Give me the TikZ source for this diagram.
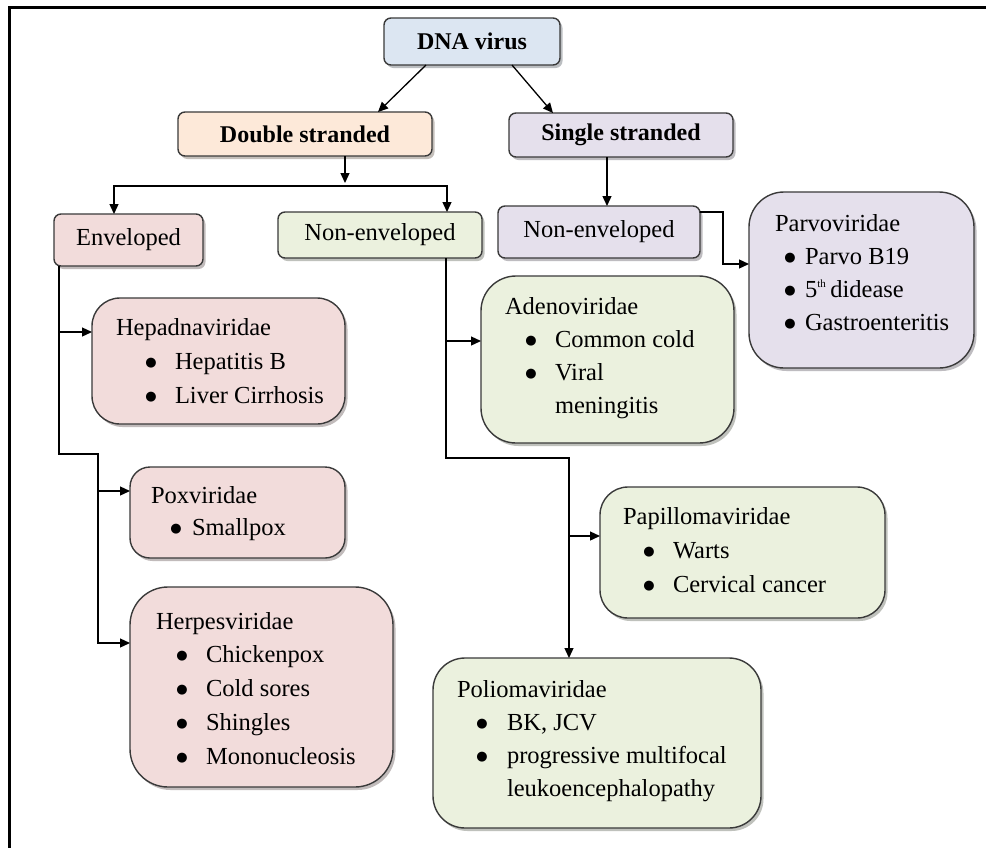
\documentclass[tikz,border=0pt]{standalone}
\usepackage{fontspec}
\setmainfont{Liberation Serif}
\newfontfamily\dejavu{DejaVu Sans}
\usetikzlibrary{arrows.meta,shadows,calc}
\definecolor{cblue}{HTML}{DCE6F2}
\definecolor{corange}{HTML}{FDE9D9}
\definecolor{cpurple}{HTML}{E5E0EC}
\definecolor{cpink}{HTML}{F2DCDB}
\definecolor{cgreen}{HTML}{EBF1DE}
\definecolor{cborder}{HTML}{3A3A3A}
\newcommand{\bitem}[3]{\hspace*{#1pt}\makebox[0pt][c]{\raisebox{2.8pt}{\dejavu\fontsize{13}{13}\selectfont ●}}\hspace*{#2pt}#3}
\tikzset{
  vbox/.style={draw=cborder, line width=1.4pt, rectangle, inner sep=0pt, outer sep=0pt,
    font=\fontsize{24.5}{30}\selectfont},
  boldtxt/.style={font=\bfseries\fontsize{24}{30}\selectfont},
  fillc/.style={fill=#1, drop shadow={shadow xshift=2.5pt, shadow yshift=-3pt, fill=#1!55!black, opacity=0.5}},
  sz/.style n args={3}{minimum width=#1pt, minimum height=#2pt, rounded corners=#3pt},
  listtxt/.style={inner sep=0pt, outer sep=0pt, anchor=base west, font=\fontsize{24.5}{#1}\selectfont},
  arr/.style={-{Triangle[length=10pt,width=9pt]}, line width=1.3pt, black},
  ln/.style={line width=1.3pt, black}
}
\begin{document}
\begin{tikzpicture}[x=1pt,y=-1pt]
\useasboundingbox (0,0) rectangle (986,847);
\fill[white] (0,0) rectangle (986,847);
\draw[line width=3pt] (9,850) -- (9,7) -- (990,7);

% top level boxes
\node[vbox, fillc=cblue, sz={176}{47}{7}, boldtxt] (dna) at (472,41.5) {DNA virus};
\node[vbox, fillc=corange, sz={254}{44}{7}, boldtxt] (ds) at (305,134) {Double stranded};
\node[vbox, fillc=cpurple, sz={224}{44}{7}, boldtxt] (ss) at (621,135) {Single stranded};
\node[vbox, fillc=cpink, sz={149}{52}{7}] (env) at (128.5,240) {Enveloped};
\node[vbox, fillc=cgreen, sz={204}{46}{7}] (nenvd) at (380,235) {Non-enveloped};
\node[vbox, fillc=cpurple, sz={202}{52}{7}] (nenvs) at (599,232) {Non-enveloped};

% family boxes
\node[vbox, fillc=cpurple, sz={225}{176}{35}] (parvo) at (861.5,280) {};
\node[vbox, fillc=cpink, sz={253}{126}{28}] (hep) at (218.5,361) {};
\node[vbox, fillc=cgreen, sz={253}{167}{35}] (adeno) at (607.5,359.5) {};
\node[vbox, fillc=cpink, sz={215}{91}{20}] (pox) at (237.5,512.5) {};
\node[vbox, fillc=cgreen, sz={285}{131}{28}] (papillo) at (742.5,552.5) {};
\node[vbox, fillc=cpink, sz={263}{200}{38}] (herp) at (261.5,687) {};
\node[vbox, fillc=cgreen, sz={328}{170}{32}] (polio) at (597,743) {};

% texts
\node[listtxt=34] (hepT) at (116,335) {\begin{tabular}[t]{@{}l@{}}Hepadnaviridae\\
  \bitem{35}{24}{Hepatitis B}\\ \bitem{35}{24}{Liver Cirrhosis}\end{tabular}};
\node[listtxt=32] (poxT) at (151,503) {\begin{tabular}[t]{@{}l@{}}Poxviridae\\
  \bitem{25}{16}{Smallpox}\end{tabular}};
\node[listtxt=33.75] (herpT) at (156,629) {\begin{tabular}[t]{@{}l@{}}Herpesviridae\\
  \bitem{26}{24}{Chickenpox}\\ \bitem{26}{24}{Cold sores}\\
  \bitem{26}{24}{Shingles}\\ \bitem{26}{24}{Mononucleosis}\end{tabular}};
\node[listtxt=33.3] (adenoT) at (505,314) {\begin{tabular}[t]{@{}l@{}}Adenoviridae\\
  \bitem{26}{24}{Common cold}\\ \bitem{26}{24}{Viral}\\
  \hspace*{50pt}meningitis\end{tabular}};
\node[listtxt=34] (papilloT) at (623,524) {\begin{tabular}[t]{@{}l@{}}Papillomaviridae\\
  \bitem{26}{24}{Warts}\\ \bitem{26}{24}{Cervical cancer}\end{tabular}};
\node[listtxt=33.3] (polioT) at (457,697) {\begin{tabular}[t]{@{}l@{}}Poliomaviridae\\
  \bitem{25}{25}{BK, JCV}\\ \bitem{25}{25}{progressive multifocal}\\
  \hspace*{50pt}leukoencephalopathy\end{tabular}};
\node[listtxt=33] (parvoT) at (775,231) {\begin{tabular}[t]{@{}l@{}}Parvoviridae\\
  \bitem{15}{15}{Parvo B19}\\ \bitem{15}{15}{5\textsuperscript{\fontsize{11}{11}\selectfont th}\,didease}\\
  \bitem{15}{15}{Gastroenteritis}\end{tabular}};

% connectors
\draw[arr] ([xshift=-46pt]dna.south) -- ([xshift=73pt]ds.north);
\draw[arr] ([xshift=40pt]dna.south) -- ([xshift=-68pt]ss.north);

\coordinate (split) at (345,186);
\draw[arr] ([xshift=40pt]ds.south) -- ([yshift=3pt]split);
\draw[arr] (split) -| ([xshift=-14.5pt]env.north);
\draw[arr] (split) -| ([xshift=67pt]nenvd.north);

\draw[arr] ([xshift=-14pt]ss.south) -- ([xshift=8pt]nenvs.north);
\draw[arr] ([yshift=-6pt]nenvs.north east) -- ++(23,0) |- ([yshift=16pt]parvo.west);

\coordinate (eA) at ([xshift=5pt]env.south west);
\coordinate (eB) at (98,454);
\coordinate (hepIn) at ([yshift=29pt]hep.west);
\coordinate (poxIn) at ([yshift=21.5pt]pox.west);
\coordinate (herpIn) at ([yshift=44pt]herp.west);
\draw[arr] (eA) |- (eB) |- (herpIn);
\draw[arr] (eA |- hepIn) -- (hepIn);
\draw[arr] (eB |- poxIn) -- (poxIn);

\coordinate (nA) at ([xshift=66pt]nenvd.south);
\coordinate (nB) at (569,458);
\coordinate (adIn) at ([yshift=18.5pt]adeno.west);
\coordinate (paIn) at ([yshift=16.5pt]papillo.west);
\draw[arr] (nA) |- (nB) -- (nB |- polio.north);
\draw[arr] (nA |- adIn) -- (adIn);
\draw[arr] (nB |- paIn) -- (paIn);
\end{tikzpicture}
\end{document}
